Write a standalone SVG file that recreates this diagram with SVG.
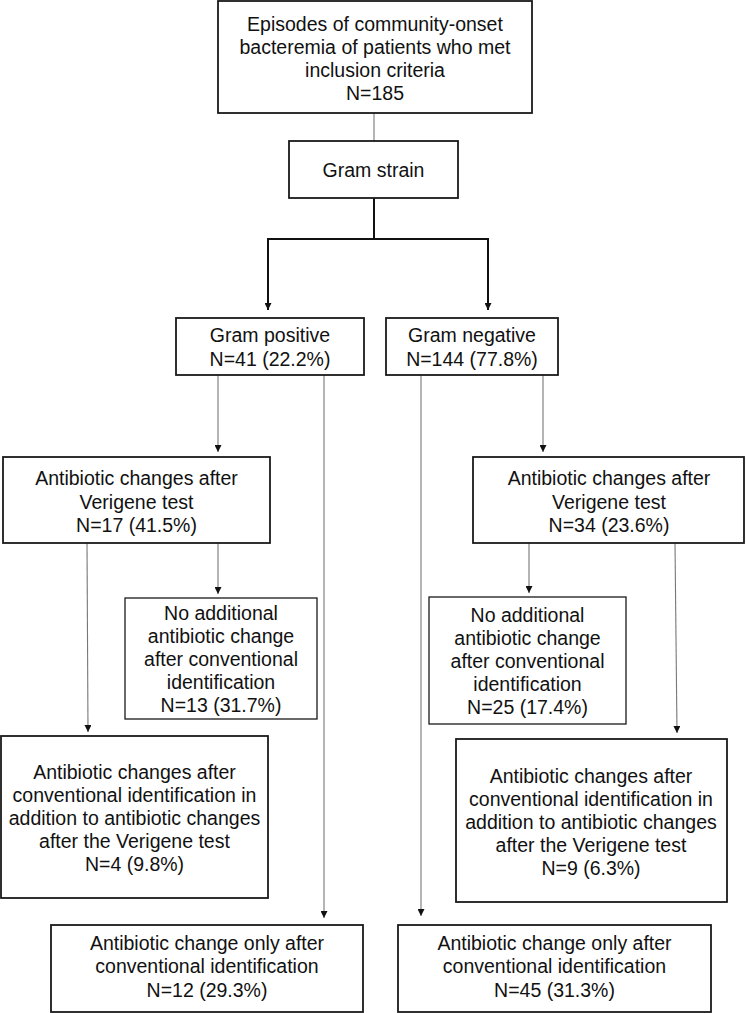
<svg xmlns="http://www.w3.org/2000/svg" width="746" height="1013" viewBox="0 0 746 1013">
<defs>
<marker id="arr" viewBox="0 0 8 8" refX="8" refY="4" markerWidth="7" markerHeight="7" markerUnits="userSpaceOnUse" orient="auto">
<path d="M0,0 L8,4 L0,8 z" fill="#111"/>
</marker>
<style>
.box{fill:#fff;stroke:#1a1a1a;stroke-width:1.8}
.thin{stroke-width:1.3}
.t{font-family:"Liberation Sans",Arial,sans-serif;font-size:19.5px;fill:#111;text-anchor:middle}
.c{fill:none;stroke:#777;stroke-width:1.1}
.k{fill:none;stroke:#111;stroke-width:2}
</style>
</defs>
<rect width="746" height="1013" fill="#fff"/>
<g id="connectors">
<line class="c" x1="374" y1="113" x2="374" y2="141"/>
<polyline class="k" points="374,198 374,239 268,239 268,303"/>
<polyline class="k" points="374,239 488,239 488,303"/>
<line class="k" x1="268" y1="300" x2="268" y2="310" marker-end="url(#arr)" stroke-width="1.5"/>
<line class="k" x1="488" y1="300" x2="488" y2="310" marker-end="url(#arr)" stroke-width="1.5"/>
<line class="c" x1="218" y1="375" x2="218" y2="452" marker-end="url(#arr)"/>
<line class="c" x1="324" y1="375" x2="324" y2="918" marker-end="url(#arr)"/>
<line class="c" x1="421" y1="375" x2="421" y2="916" marker-end="url(#arr)"/>
<line class="c" x1="543" y1="375" x2="543" y2="452" marker-end="url(#arr)"/>
<line class="c" x1="87" y1="543" x2="88" y2="732" marker-end="url(#arr)"/>
<line class="c" x1="218" y1="543" x2="218" y2="594" marker-end="url(#arr)"/>
<line class="c" x1="529" y1="543" x2="529" y2="593" marker-end="url(#arr)"/>
<line class="c" x1="675" y1="543" x2="677" y2="733" marker-end="url(#arr)"/>
</g>
<g id="n-top">
<rect class="box" x="218" y="1" width="314" height="112"/>
<text class="t" x="375" y="30.5">Episodes of community-onset</text>
<text class="t" x="375" y="54">bacteremia of patients who met</text>
<text class="t" x="375" y="77">inclusion criteria</text>
<text class="t" x="375" y="100">N=185</text>
</g>
<g id="n-gram">
<rect class="box" x="289" y="141" width="169" height="57"/>
<text class="t" x="373.5" y="176.5">Gram strain</text>
</g>
<g id="n-gp">
<rect class="box" x="176" y="318" width="188" height="57"/>
<text class="t" x="270" y="342">Gram positive</text>
<text class="t" x="270" y="365.5">N=41 (22.2%)</text>
</g>
<g id="n-gn">
<rect class="box" x="386" y="318" width="172" height="57"/>
<text class="t" x="472" y="342">Gram negative</text>
<text class="t" x="472" y="365.5">N=144 (77.8%)</text>
</g>
<g id="n-gp-ver">
<rect class="box" x="3" y="457" width="267" height="86"/>
<text class="t" x="136.5" y="485">Antibiotic changes after</text>
<text class="t" x="136.5" y="508.5">Verigene test</text>
<text class="t" x="136.5" y="532">N=17 (41.5%)</text>
</g>
<g id="n-gn-ver">
<rect class="box" x="473" y="457" width="271" height="86"/>
<text class="t" x="609" y="485">Antibiotic changes after</text>
<text class="t" x="609" y="508.5">Verigene test</text>
<text class="t" x="609" y="532">N=34 (23.6%)</text>
</g>
<g id="n-gp-none">
<rect class="box thin" x="125" y="598" width="192" height="121"/>
<text class="t" x="221" y="620">No additional</text>
<text class="t" x="221" y="643">antibiotic change</text>
<text class="t" x="221" y="666">after conventional</text>
<text class="t" x="221" y="689">identification</text>
<text class="t" x="221" y="712">N=13 (31.7%)</text>
</g>
<g id="n-gn-none">
<rect class="box thin" x="429" y="597" width="197" height="127"/>
<text class="t" x="527.5" y="622">No additional</text>
<text class="t" x="527.5" y="645">antibiotic change</text>
<text class="t" x="527.5" y="668">after conventional</text>
<text class="t" x="527.5" y="691">identification</text>
<text class="t" x="527.5" y="714">N=25 (17.4%)</text>
</g>
<g id="n-gp-both">
<rect class="box" x="1" y="736" width="267" height="162"/>
<text class="t" x="134.5" y="779">Antibiotic changes after</text>
<text class="t" x="134.5" y="802">conventional identification in</text>
<text class="t" x="134.5" y="825">addition to antibiotic changes</text>
<text class="t" x="134.5" y="848">after the Verigene test</text>
<text class="t" x="134.5" y="871">N=4 (9.8%)</text>
</g>
<g id="n-gn-both">
<rect class="box" x="456" y="739" width="271" height="163"/>
<text class="t" x="591" y="783">Antibiotic changes after</text>
<text class="t" x="591" y="806">conventional identification in</text>
<text class="t" x="591" y="829">addition to antibiotic changes</text>
<text class="t" x="591" y="852">after the Verigene test</text>
<text class="t" x="591" y="875">N=9 (6.3%)</text>
</g>
<g id="n-gp-conv">
<rect class="box" x="51" y="925" width="312" height="87"/>
<text class="t" x="207" y="950">Antibiotic change only after</text>
<text class="t" x="207" y="973">conventional identification</text>
<text class="t" x="207" y="997">N=12 (29.3%)</text>
</g>
<g id="n-gn-conv">
<rect class="box" x="398" y="925" width="313" height="87"/>
<text class="t" x="554.5" y="950">Antibiotic change only after</text>
<text class="t" x="554.5" y="973">conventional identification</text>
<text class="t" x="554.5" y="997">N=45 (31.3%)</text>
</g>
</svg>
